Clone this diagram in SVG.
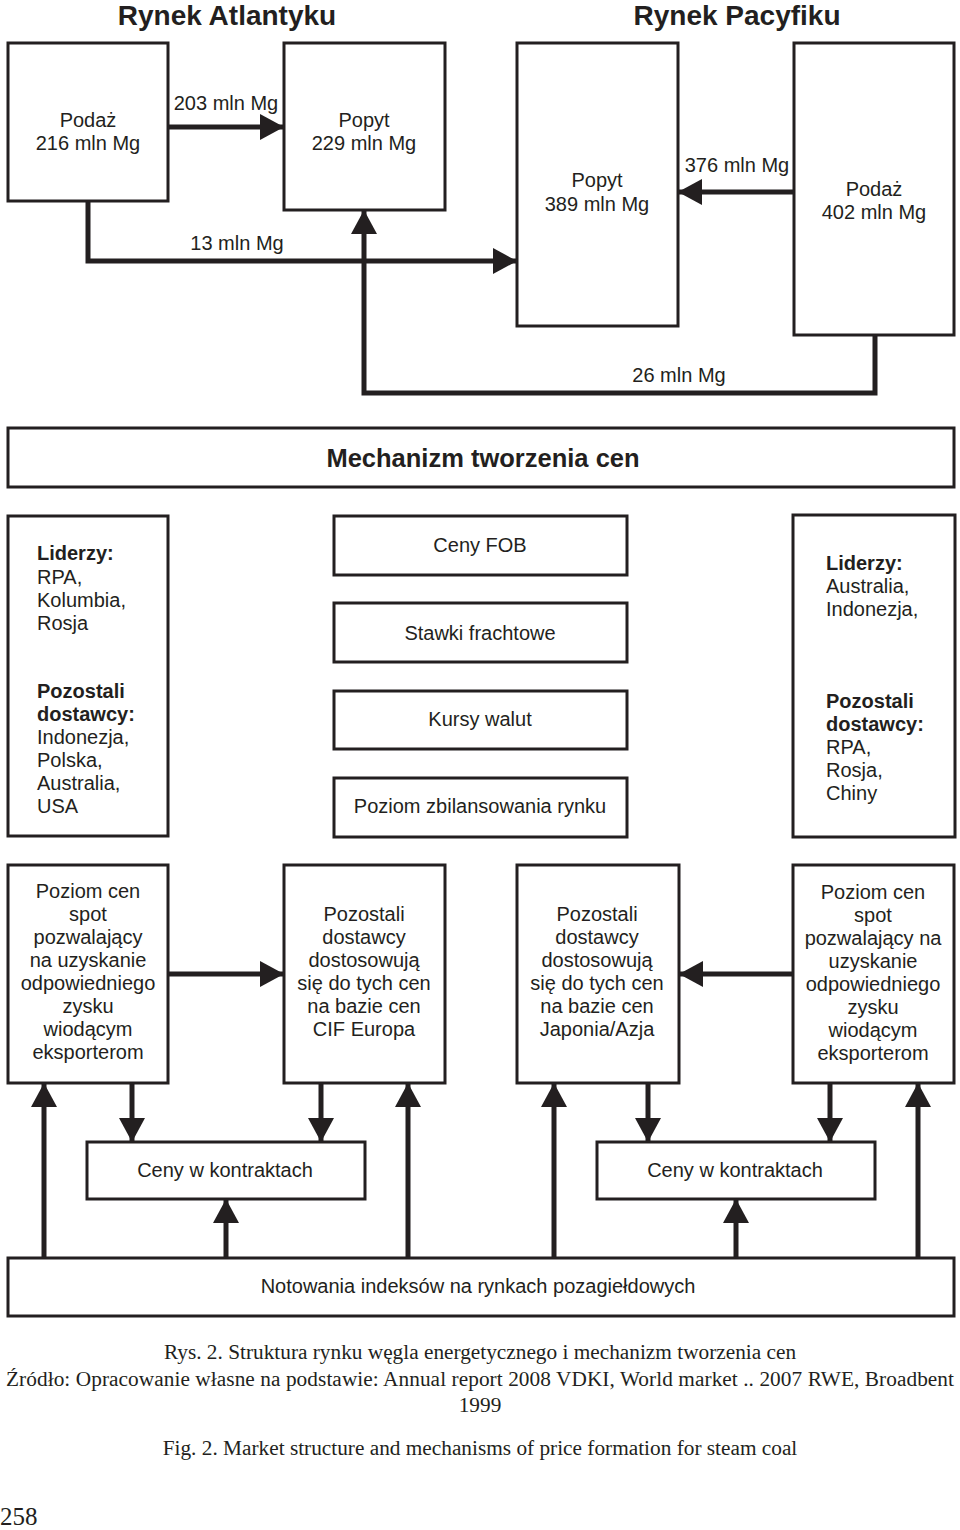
<svg xmlns="http://www.w3.org/2000/svg" width="960" height="1530" viewBox="0 0 960 1530">
<style>
.bx{fill:#fff;stroke:#231f20;stroke-width:3}
.ln{fill:none;stroke:#231f20;stroke-width:5}
.t{font-family:"Liberation Sans",Arial,sans-serif;font-size:20px;fill:#231f20}
.c{text-anchor:middle}
.b{font-weight:bold}
.h{font-family:"Liberation Sans",Arial,sans-serif;font-weight:bold;font-size:28px;fill:#231f20;text-anchor:middle}
.s{font-family:"Liberation Serif","Times New Roman",serif;font-size:21.3px;fill:#231f20}
</style>
<defs>
<marker id="ah" viewBox="0 0 24 26" refX="24" refY="13" markerWidth="24" markerHeight="26" markerUnits="userSpaceOnUse" orient="auto">
<path d="M0,0 L24,13 L0,26 Z" fill="#231f20"/>
</marker>
</defs>
<rect width="960" height="1530" fill="#fff"/>
<text class="h" x="227" y="25">Rynek Atlantyku</text>
<text class="h" x="737" y="25">Rynek Pacyfiku</text>
<g id="connectors">
<line class="ln" x1="168" y1="127" x2="284" y2="127" marker-end="url(#ah)"/>
<polyline class="ln" points="88,201 88,261 517,261" marker-end="url(#ah)"/>
<polyline class="ln" points="875,335 875,393 364,393 364,210" marker-end="url(#ah)"/>
<line class="ln" x1="794" y1="192" x2="678" y2="192" marker-end="url(#ah)"/>
<line class="ln" x1="168" y1="974" x2="284" y2="974" marker-end="url(#ah)"/>
<line class="ln" x1="793" y1="974" x2="679" y2="974" marker-end="url(#ah)"/>
<line class="ln" x1="44" y1="1258" x2="44" y2="1083" marker-end="url(#ah)"/>
<line class="ln" x1="132" y1="1083" x2="132" y2="1142" marker-end="url(#ah)"/>
<line class="ln" x1="321" y1="1083" x2="321" y2="1142" marker-end="url(#ah)"/>
<line class="ln" x1="408" y1="1258" x2="408" y2="1083" marker-end="url(#ah)"/>
<line class="ln" x1="226" y1="1258" x2="226" y2="1199" marker-end="url(#ah)"/>
<line class="ln" x1="554" y1="1258" x2="554" y2="1083" marker-end="url(#ah)"/>
<line class="ln" x1="648" y1="1083" x2="648" y2="1142" marker-end="url(#ah)"/>
<line class="ln" x1="830" y1="1083" x2="830" y2="1142" marker-end="url(#ah)"/>
<line class="ln" x1="918" y1="1258" x2="918" y2="1083" marker-end="url(#ah)"/>
<line class="ln" x1="736" y1="1258" x2="736" y2="1199" marker-end="url(#ah)"/>
<text class="t c" x="226" y="110">203 mln Mg</text>
<text class="t c" x="237" y="250">13 mln Mg</text>
<text class="t c" x="679" y="382">26 mln Mg</text>
<text class="t c" x="737" y="172">376 mln Mg</text>
</g>
<g id="atl-supply"><rect class="bx" x="8" y="43" width="160" height="158"/>
<text class="t c" x="88" y="127">Podaż</text><text class="t c" x="88" y="150">216 mln Mg</text></g>
<g id="atl-demand"><rect class="bx" x="284" y="43" width="161" height="167"/>
<text class="t c" x="364" y="127">Popyt</text><text class="t c" x="364" y="150">229 mln Mg</text></g>
<g id="pac-demand"><rect class="bx" x="517" y="43" width="161" height="283"/>
<text class="t c" x="597" y="187">Popyt</text><text class="t c" x="597" y="211">389 mln Mg</text></g>
<g id="pac-supply"><rect class="bx" x="794" y="43" width="160" height="292"/>
<text class="t c" x="874" y="196">Podaż</text><text class="t c" x="874" y="219">402 mln Mg</text></g>
<g id="mechanizm"><rect class="bx" x="8" y="428" width="946" height="59"/>
<text class="t c b" x="483" y="467" style="font-size:25.5px">Mechanizm tworzenia cen</text></g>
<g id="atl-leaders"><rect class="bx" x="8" y="516" width="160" height="320"/>
<text class="t" x="37"><tspan class="b" x="37" y="560">Liderzy:</tspan><tspan x="37" y="584">RPA,</tspan><tspan x="37" y="607">Kolumbia,</tspan><tspan x="37" y="630">Rosja</tspan>
<tspan class="b" x="37" y="698">Pozostali</tspan><tspan class="b" x="37" y="721">dostawcy:</tspan><tspan x="37" y="744">Indonezja,</tspan><tspan x="37" y="767">Polska,</tspan><tspan x="37" y="790">Australia,</tspan><tspan x="37" y="813">USA</tspan></text></g>
<g id="fob"><rect class="bx" x="334" y="516" width="293" height="59"/><text class="t c" x="480" y="552">Ceny FOB</text></g>
<g id="freight"><rect class="bx" x="334" y="603" width="293" height="59"/><text class="t c" x="480" y="640">Stawki frachtowe</text></g>
<g id="fx"><rect class="bx" x="334" y="691" width="293" height="58"/><text class="t c" x="480" y="726">Kursy walut</text></g>
<g id="balance"><rect class="bx" x="334" y="778" width="293" height="59"/><text class="t c" x="480" y="813">Poziom zbilansowania rynku</text></g>
<g id="pac-leaders"><rect class="bx" x="793" y="515" width="162" height="322"/>
<text class="t" x="826"><tspan class="b" x="826" y="570">Liderzy:</tspan><tspan x="826" y="593">Australia,</tspan><tspan x="826" y="616">Indonezja,</tspan>
<tspan class="b" x="826" y="708">Pozostali</tspan><tspan class="b" x="826" y="731">dostawcy:</tspan><tspan x="826" y="754">RPA,</tspan><tspan x="826" y="777">Rosja,</tspan><tspan x="826" y="800">Chiny</tspan></text></g>
<g id="atl-spot"><rect class="bx" x="8" y="865" width="160" height="218"/>
<text class="t c"><tspan x="88" y="898">Poziom cen</tspan><tspan x="88" y="921">spot</tspan><tspan x="88" y="944">pozwalający</tspan><tspan x="88" y="967">na uzyskanie</tspan><tspan x="88" y="990">odpowiedniego</tspan><tspan x="88" y="1013">zysku</tspan><tspan x="88" y="1036">wiodącym</tspan><tspan x="88" y="1059">eksporterom</tspan></text></g>
<g id="atl-others"><rect class="bx" x="284" y="865" width="161" height="218"/>
<text class="t c"><tspan x="364" y="921">Pozostali</tspan><tspan x="364" y="944">dostawcy</tspan><tspan x="364" y="967">dostosowują</tspan><tspan x="364" y="990">się do tych cen</tspan><tspan x="364" y="1013">na bazie cen</tspan><tspan x="364" y="1036">CIF Europa</tspan></text></g>
<g id="pac-others"><rect class="bx" x="517" y="865" width="162" height="218"/>
<text class="t c"><tspan x="597" y="921">Pozostali</tspan><tspan x="597" y="944">dostawcy</tspan><tspan x="597" y="967">dostosowują</tspan><tspan x="597" y="990">się do tych cen</tspan><tspan x="597" y="1013">na bazie cen</tspan><tspan x="597" y="1036">Japonia/Azja</tspan></text></g>
<g id="pac-spot"><rect class="bx" x="793" y="865" width="161" height="218"/>
<text class="t c"><tspan x="873" y="899">Poziom cen</tspan><tspan x="873" y="922">spot</tspan><tspan x="873" y="945">pozwalający na</tspan><tspan x="873" y="968">uzyskanie</tspan><tspan x="873" y="991">odpowiedniego</tspan><tspan x="873" y="1014">zysku</tspan><tspan x="873" y="1037">wiodącym</tspan><tspan x="873" y="1060">eksporterom</tspan></text></g>
<g id="atl-contracts"><rect class="bx" x="87" y="1142" width="278" height="57"/><text class="t c" x="225" y="1177">Ceny w kontraktach</text></g>
<g id="pac-contracts"><rect class="bx" x="597" y="1142" width="278" height="57"/><text class="t c" x="735" y="1177">Ceny w kontraktach</text></g>
<g id="indices"><rect class="bx" x="8" y="1258" width="946" height="58"/><text class="t c" x="478" y="1293">Notowania indeksów na rynkach pozagiełdowych</text></g>
<g id="caption">
<text class="s" x="480" y="1359" text-anchor="middle">Rys. 2. Struktura rynku węgla energetycznego i mechanizm tworzenia cen</text>
<text class="s" x="6" y="1386" textLength="948" lengthAdjust="spacing">Źródło: Opracowanie własne na podstawie: Annual report 2008 VDKI, World market .. 2007 RWE, Broadbent</text>
<text class="s" x="480" y="1412" text-anchor="middle">1999</text>
<text class="s" x="480" y="1455" text-anchor="middle">Fig. 2. Market structure and mechanisms of price formation for steam coal</text>
<text class="s" x="0" y="1525" style="font-size:25px">258</text>
</g>
</svg>
